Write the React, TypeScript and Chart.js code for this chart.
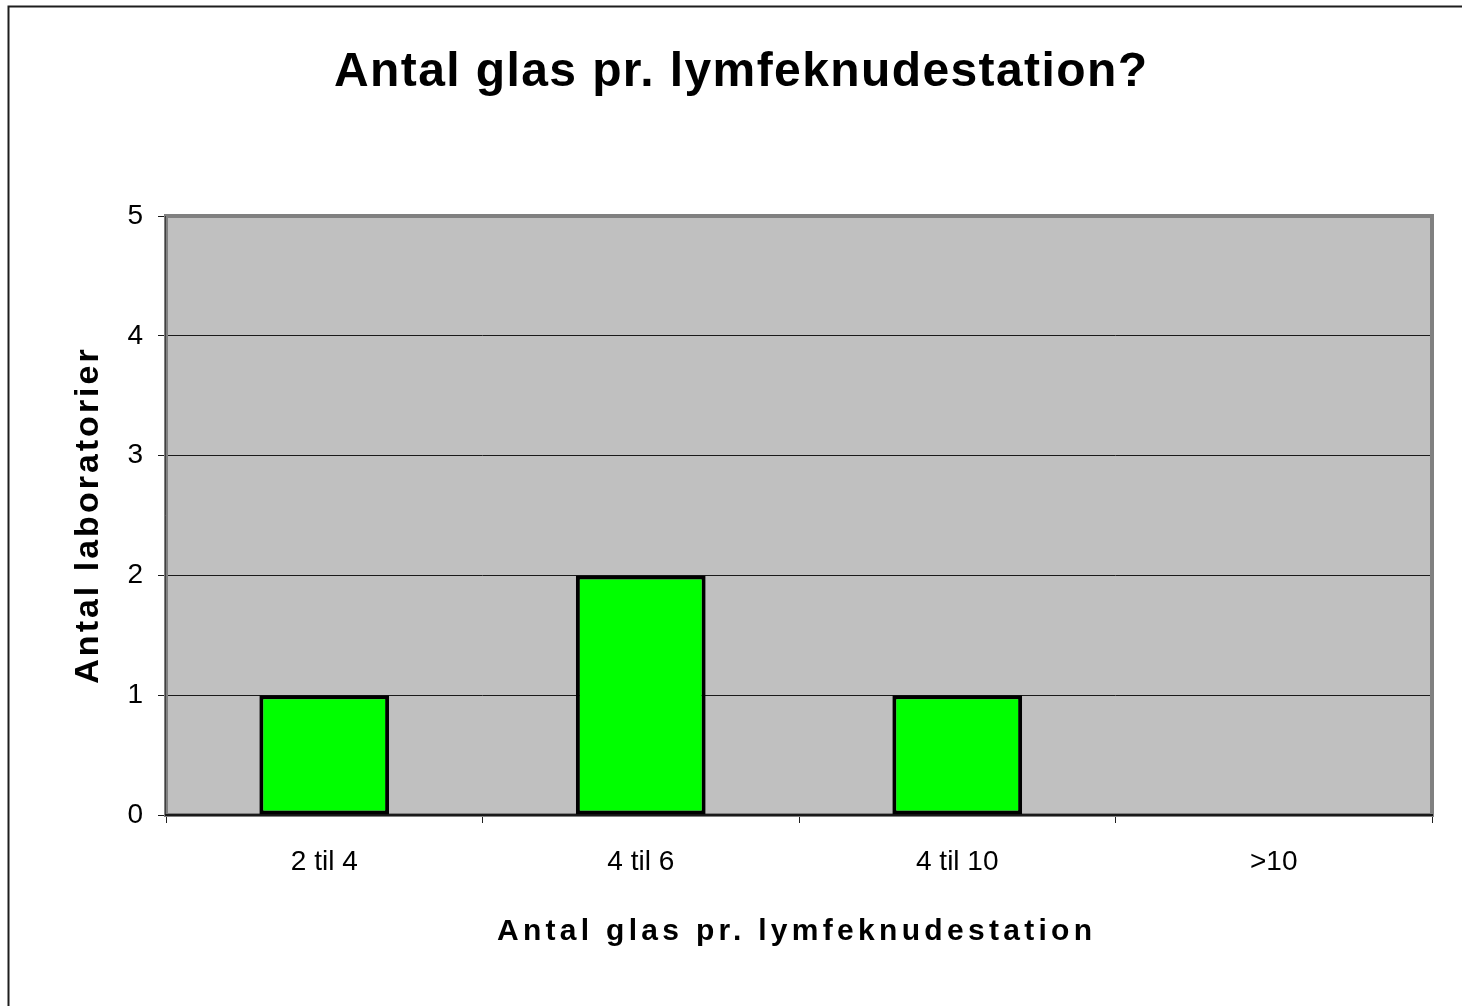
import React, { useEffect, useRef } from "react";
import { Chart, registerables } from "chart.js";

Chart.register(...registerables);

const categories = ["2 til 4", "4 til 6", "4 til 10", ">10"];
const laboratories = [1, 2, 1, 0];
const yTickValues = [0, 1, 2, 3, 4, 5];
const chartTitle = "Antal glas pr. lymfeknudestation?";
const xAxisTitle = "Antal glas pr. lymfeknudestation";
const yAxisTitle = "Antal laboratorier";

const FONT = '"Liberation Sans", Arial, sans-serif';

function drawSpaced(ctx: CanvasRenderingContext2D, text: string, cx: number, baseline: number, font: string, spacing: number) {
  ctx.font = font;
  (ctx as any).letterSpacing = spacing + "px";
  const w = ctx.measureText(text).width - spacing;
  ctx.textAlign = "left";
  ctx.textBaseline = "alphabetic";
  ctx.fillText(text, cx - w / 2, baseline);
  (ctx as any).letterSpacing = "0px";
}

const decorPlugin = {
  id: "decor",
  beforeDraw(chart: any) {
    const { ctx, chartArea: a } = chart;
    ctx.save();
    ctx.fillStyle = "#ffffff";
    ctx.fillRect(0, 0, chart.width, chart.height);
    ctx.fillStyle = "#C0C0C0";
    ctx.fillRect(a.left, a.top, a.right - a.left, a.bottom - a.top);
    // page frame
    ctx.strokeStyle = "#1e1e1e";
    ctx.lineWidth = 2;
    ctx.beginPath();
    ctx.moveTo(8.5, chart.height);
    ctx.lineTo(8.5, 6.5);
    ctx.lineTo(chart.width, 6.5);
    ctx.stroke();
    // titles
    ctx.fillStyle = "#000000";
    drawSpaced(ctx, chartTitle, 740.5, 86, `bold 48px ${FONT}`, 1.4);
    drawSpaced(ctx, xAxisTitle, 794.5, 940, `bold 30px ${FONT}`, 4.3);
    ctx.save();
    ctx.translate(98, 516.5);
    ctx.rotate(-Math.PI / 2);
    drawSpaced(ctx, yAxisTitle, 0, 0, `bold 34px ${FONT}`, 3);
    ctx.restore();
    ctx.restore();
  },
  beforeDatasetsDraw(chart: any) {
    const { ctx, chartArea: a } = chart;
    ctx.save();
    ctx.strokeStyle = "#808080";
    ctx.lineWidth = 4;
    ctx.strokeRect(a.left, a.top, a.right - a.left, a.bottom - a.top);
    ctx.strokeStyle = "#404040";
    ctx.lineWidth = 1;
    ctx.beginPath();
    ctx.moveTo(a.left - 0.5, a.top);
    ctx.lineTo(a.left - 0.5, a.bottom);
    ctx.stroke();
    ctx.strokeStyle = "#1a1a1a";
    ctx.lineWidth = 2;
    ctx.beginPath();
    ctx.moveTo(a.left - 1, a.bottom);
    ctx.lineTo(a.right + 1, a.bottom);
    ctx.stroke();
    ctx.restore();
  },
};

export default function App() {
  const ref = useRef<HTMLCanvasElement | null>(null);
  useEffect(() => {
    if (!ref.current) return;
    const chart = new Chart(ref.current, {
      type: "bar",
      data: {
        labels: categories,
        datasets: [
          {
            data: laboratories,
            backgroundColor: "#00FF00",
            borderColor: "#000000",
            borderWidth: (c: any) => (c.raw === 0 ? 0 : 4),
            borderSkipped: false,
            barPercentage: 1,
            categoryPercentage: 0.41,
          },
        ],
      },
      options: {
        responsive: false,
        animation: false,
        layout: { padding: { left: 100, top: 216, right: 30, bottom: 111 } },
        plugins: { legend: { display: false }, tooltip: { enabled: false }, title: { display: false } },
        scales: {
          x: {
            type: "category",
            offset: true,
            grid: { offset: true, drawOnChartArea: false, drawTicks: true, tickLength: 8, color: "#202020", lineWidth: 1 },
            border: { display: false },
            ticks: { font: { family: FONT, size: 28 }, color: "#000", padding: 22, maxRotation: 0, autoSkip: false },
            afterFit: (s: any) => {
              s.height = 80;
            },
          },
          y: {
            min: 0,
            max: 5,
            grid: { color: "#1a1a1a", lineWidth: 1, drawTicks: true, tickLength: 8 },
            border: { display: false },
            ticks: { font: { family: FONT, size: 28 }, color: "#000", padding: 15 },
            afterBuildTicks: (s: any) => {
              s.ticks = yTickValues.map((v) => ({ value: v }));
            },
            afterFit: (s: any) => {
              s.width = 66;
            },
          },
        },
      },
      plugins: [decorPlugin],
    } as any);
    return () => chart.destroy();
  }, []);
  return (
    <div style={{ position: "fixed", left: 0, top: 0, width: 1462, height: 1006 }}>
      <canvas ref={ref} width={1462} height={1006} style={{ display: "block" }} />
    </div>
  );
}
